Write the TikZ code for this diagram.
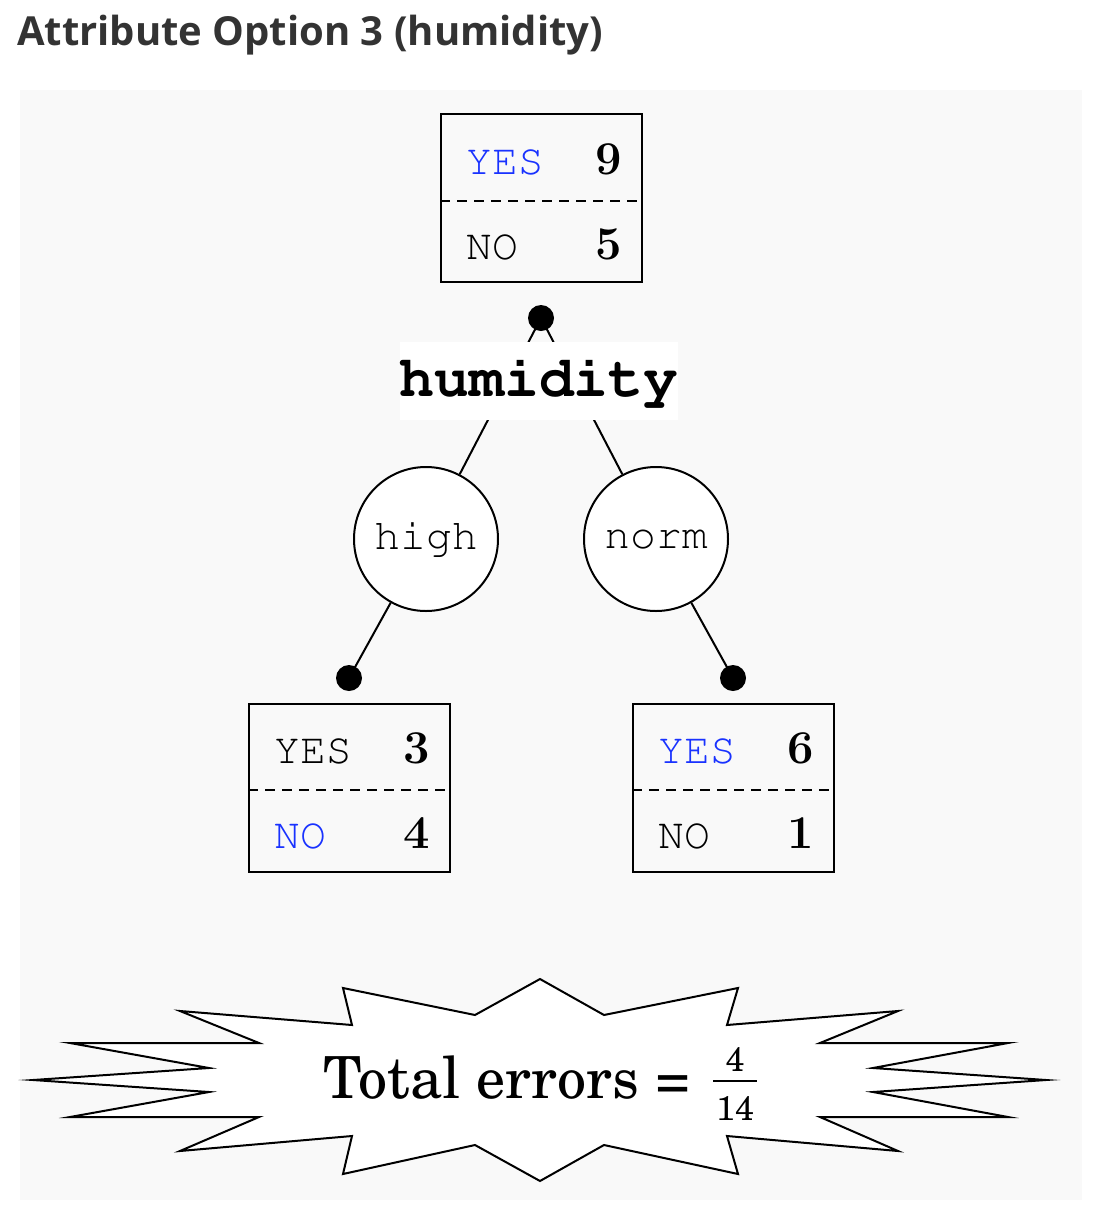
\RequirePackage{fix-cm}
\documentclass[tikz,border=0pt]{standalone}
\usepackage[T1]{fontenc}
\usepackage{fontspec}
\newfontfamily\titlefont{Open Sans}
\newcommand\courierfont{\fontencoding{T1}\fontfamily{pcr}\selectfont}
\newcommand\schoolfont{\fontencoding{T1}\fontfamily{pnc}\selectfont}
\definecolor{panelgray}{RGB}{249,249,249}
\definecolor{titlegray}{RGB}{51,51,51}
\definecolor{yesblue}{RGB}{25,50,255}
\tikzset{
  boxnode/.style={draw, line width=2pt, minimum width=201pt, minimum height=168pt, inner sep=0pt},
  splitline/.style={line width=2pt, dash pattern=on 10pt off 7pt},
  lbl/.style={font=\courierfont\fontsize{43}{52}\selectfont, inner sep=0pt, anchor=base west},
  num/.style={font=\fontsize{47}{56}\selectfont\bfseries, inner sep=0pt, anchor=base east},
  valnode/.style={circle, draw, fill=white, line width=2pt, minimum size=144pt, inner sep=0pt, font=\courierfont\fontsize{43}{52}\selectfont},
  dotnode/.style={circle, fill=black, minimum size=26pt, inner sep=0pt},
  conn/.style={line width=2pt},
  attrnode/.style={fill=white, minimum width=274pt, minimum height=78pt, inner sep=0pt, font=\courierfont\bfseries\fontsize{58}{68}\selectfont},
}
\begin{document}
\begin{tikzpicture}[x=1pt,y=-1pt]
\useasboundingbox (0,0) rectangle (1102,1208);
\fill[panelgray] (20,90) rectangle (1082,1200);
\node[inner sep=0pt, anchor=base west, text=titlegray, font=\titlefont\bfseries\fontsize{40}{48}\selectfont] (title) at (17,45) {Attribute Option 3 (humidity)};

% root box
\node[boxnode] (root) at (541.5,198) {};
\draw[splitline] ([yshift=-3pt]root.west) -- ([yshift=-3pt]root.east);
\node[lbl, text=yesblue] (rootyes) at (466,174) {YES};
\node[num] (rootyesn) at (622,174) {9};
\node[lbl] (rootno) at (466,259) {NO};
\node[num] (rootnon) at (622,259) {5};
\node[dotnode] (rootdot) at (541,318) {};

% value circles
\node[valnode] (high) at (426,539) {high};
\node[valnode] (norm) at (656,539) {norm};
\draw[conn] (rootdot.center) -- (high);
\draw[conn] (rootdot.center) -- (norm);
\node[attrnode] (attr) at (539,381) {humidity};

% leaf dots
\node[dotnode] (ldot) at (349,678) {};
\node[dotnode] (rdot) at (733,678) {};
\draw[conn] (high) -- (ldot.center);
\draw[conn] (norm) -- (rdot.center);

% left leaf
\node[boxnode] (lleaf) at (349.5,788) {};
\draw[splitline] ([yshift=-2pt]lleaf.west) -- ([yshift=-2pt]lleaf.east);
\node[lbl] (lyes) at (274,763) {YES};
\node[num] (lyesn) at (430,763) {3};
\node[lbl, text=yesblue] (lno) at (274,848) {NO};
\node[num] (lnon) at (430,848) {4};

% right leaf
\node[boxnode] (rleaf) at (733.5,788) {};
\draw[splitline] ([yshift=-2pt]rleaf.west) -- ([yshift=-2pt]rleaf.east);
\node[lbl, text=yesblue] (ryes) at (658,763) {YES};
\node[num] (ryesn) at (814,763) {6};
\node[lbl] (rno) at (658,848) {NO};
\node[num] (rnon) at (814,848) {1};

% starburst
\draw[fill=white, line width=2pt, line join=miter, miter limit=20]
 (540,979) -- (604,1015) -- (738,988) -- (727,1025) -- (898,1011) -- (820,1043)
 -- (1008,1043) -- (873,1068) -- (1046,1080) -- (873,1092) -- (1008,1117)
 -- (820,1117) -- (898,1151) -- (727,1136) -- (738,1174) -- (604,1145)
 -- (540,1181) -- (475,1145) -- (343,1174) -- (352,1136) -- (180,1151)
 -- (259,1117) -- (70,1117) -- (209,1092) -- (33,1080) -- (209,1068)
 -- (70,1043) -- (259,1043) -- (180,1011) -- (352,1025) -- (343,988)
 -- (475,1015) -- cycle;
\node[inner sep=0pt, anchor=base west, font=\schoolfont\fontsize{58}{68}\selectfont] (errtext) at (323,1098) {Total errors =};
\node[inner sep=0pt, anchor=base, font=\schoolfont\fontsize{34}{40}\selectfont] (errnum) at (735,1071) {4};
\node[inner sep=0pt, anchor=base, font=\schoolfont\fontsize{34}{40}\selectfont] (errden) at (735,1120) {14};
\draw[line width=2.2pt] ([xshift=-22pt]errnum.base |- 0,1081) -- ([xshift=22pt]errnum.base |- 0,1081);
\end{tikzpicture}
\end{document}
